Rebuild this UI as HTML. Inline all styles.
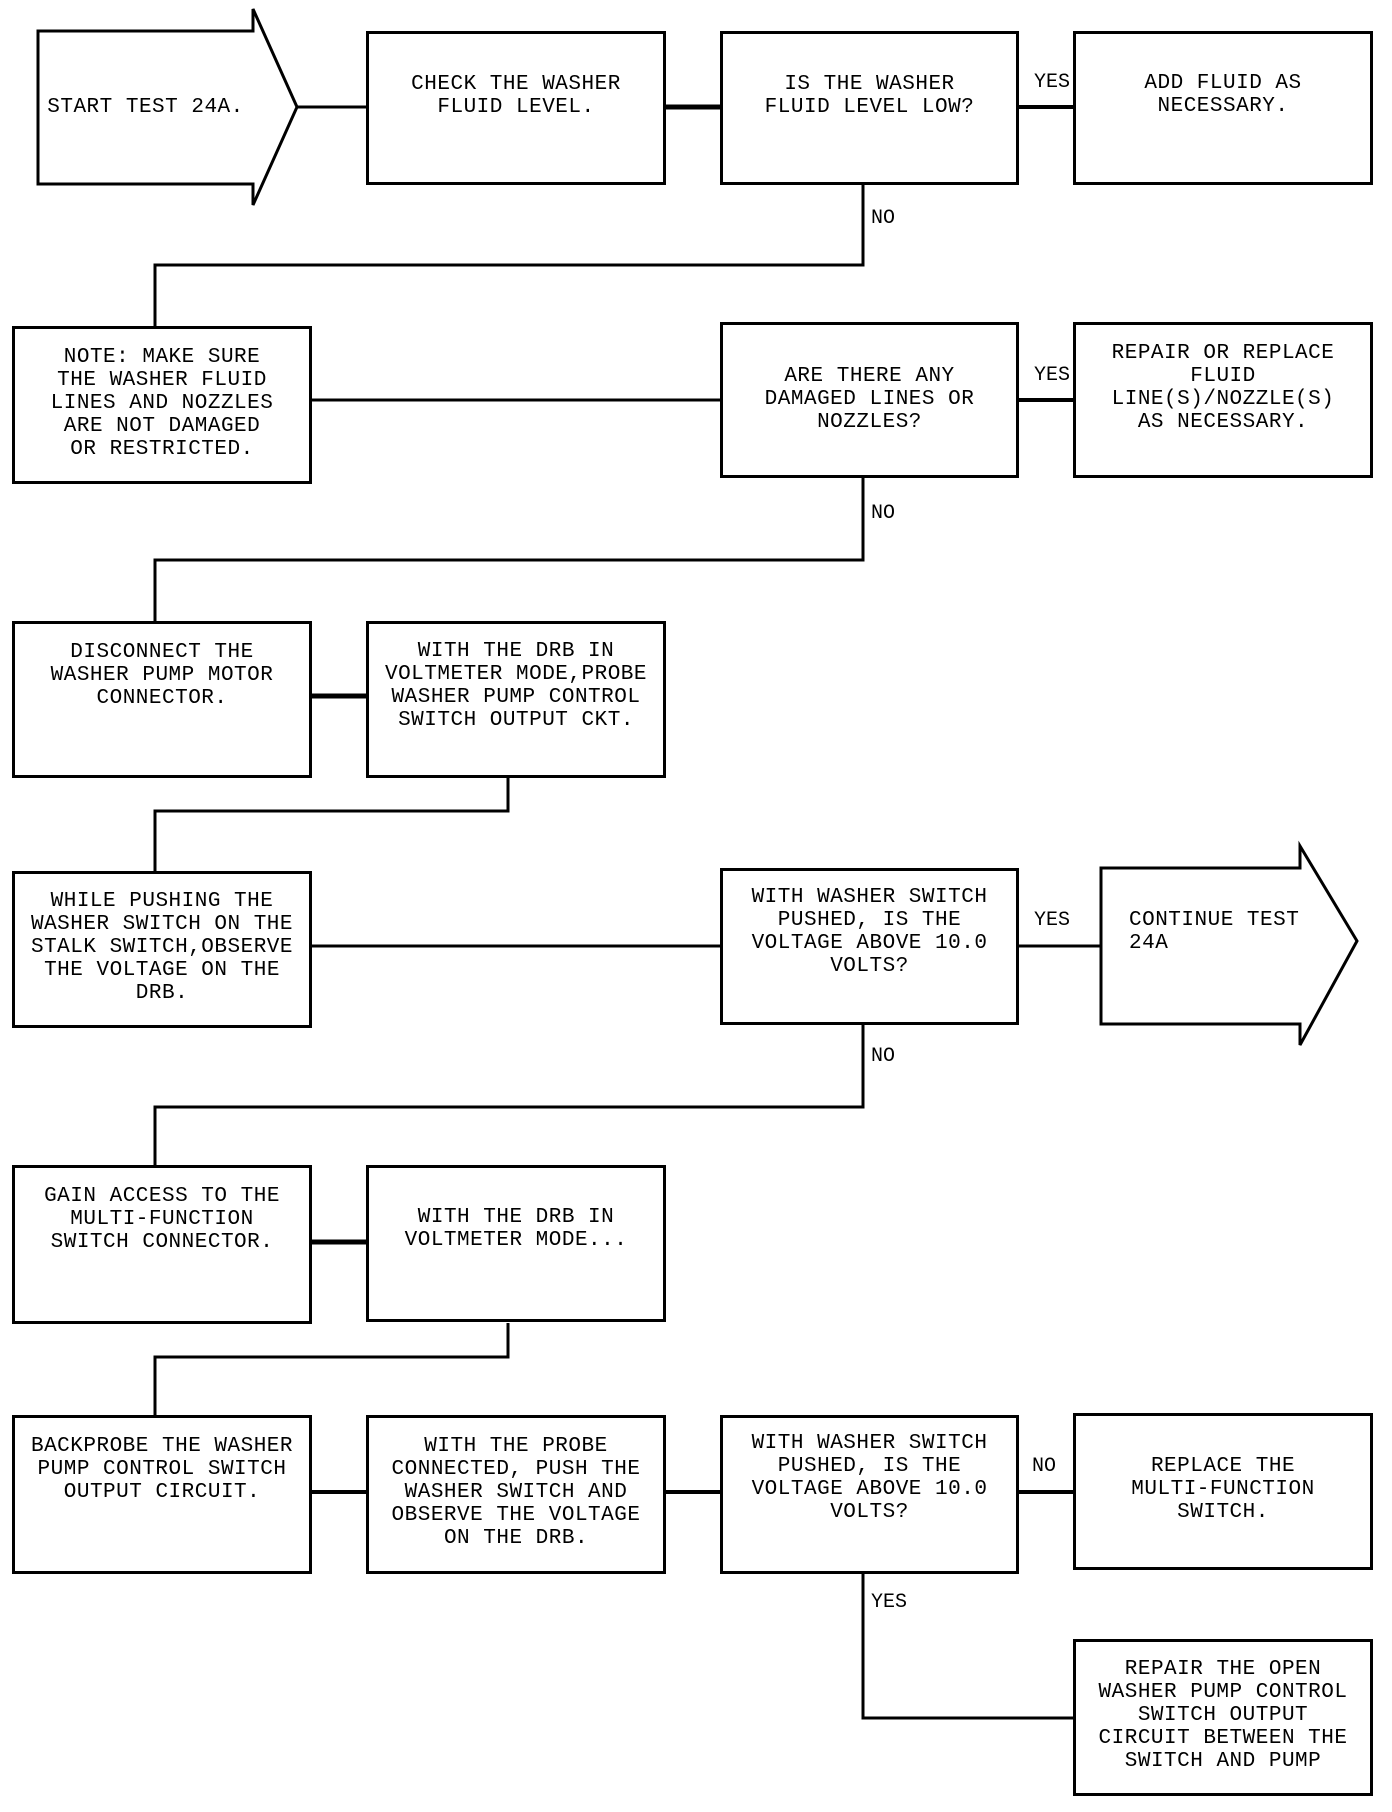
<!DOCTYPE html>
<html><head><meta charset="utf-8"><style>
body{margin:0;background:#fff;}
#c{position:relative;width:1392px;height:1812px;overflow:hidden;background:#fff;}
.b{position:absolute;border:3px solid #000;box-sizing:border-box;background:#fff;}
.t{position:absolute;font-family:"Liberation Mono",monospace;font-size:21px;line-height:23px;text-align:center;color:#000;white-space:nowrap;letter-spacing:0.5px;}
.l{position:absolute;font-family:"Liberation Mono",monospace;font-size:20px;color:#000;}
</style></head><body><div id="c">
<svg width="1392" height="1812" style="position:absolute;left:0;top:0">
<g fill="none" stroke="#000" stroke-width="3">
<polygon points="38,31 253,31 253,9 297,107 253,205 253,184 38,184" fill="#fff"/>
<polygon points="1101,868 1300,868 1300,846 1357,941 1300,1045 1300,1024 1101,1024" fill="#fff"/>
<line x1="297" y1="107" x2="366" y2="107"/>
<line x1="665" y1="107" x2="720" y2="107" stroke-width="5"/>
<line x1="1018" y1="107" x2="1073" y2="107" stroke-width="4"/>
<polyline points="863,184 863,265 155,265 155,326"/>
<line x1="311" y1="400" x2="720" y2="400"/>
<line x1="1018" y1="400" x2="1073" y2="400" stroke-width="4"/>
<polyline points="863,477 863,560 155,560 155,621"/>
<line x1="311" y1="696" x2="366" y2="696" stroke-width="5"/>
<polyline points="508,777 508,811 155,811 155,871"/>
<line x1="311" y1="946" x2="720" y2="946"/>
<line x1="1018" y1="946" x2="1101" y2="946"/>
<polyline points="863,1024 863,1107 155,1107 155,1165"/>
<line x1="311" y1="1242" x2="366" y2="1242" stroke-width="5"/>
<polyline points="508,1323 508,1357 155,1357 155,1415"/>
<line x1="311" y1="1492" x2="366" y2="1492" stroke-width="4"/>
<line x1="665" y1="1492" x2="720" y2="1492" stroke-width="4"/>
<line x1="1018" y1="1492" x2="1073" y2="1492" stroke-width="4"/>
<polyline points="863,1573 863,1718 1073,1718"/>
</g>
</svg>
<div class="b" style="left:366px;top:31px;width:300px;height:154px"></div>
<div class="b" style="left:720px;top:31px;width:299px;height:154px"></div>
<div class="b" style="left:1073px;top:31px;width:300px;height:154px"></div>
<div class="b" style="left:12px;top:326px;width:300px;height:158px"></div>
<div class="b" style="left:720px;top:322px;width:299px;height:156px"></div>
<div class="b" style="left:1073px;top:322px;width:300px;height:156px"></div>
<div class="b" style="left:12px;top:621px;width:300px;height:157px"></div>
<div class="b" style="left:366px;top:621px;width:300px;height:157px"></div>
<div class="b" style="left:12px;top:871px;width:300px;height:157px"></div>
<div class="b" style="left:720px;top:868px;width:299px;height:157px"></div>
<div class="b" style="left:12px;top:1165px;width:300px;height:159px"></div>
<div class="b" style="left:366px;top:1165px;width:300px;height:157px"></div>
<div class="b" style="left:12px;top:1415px;width:300px;height:159px"></div>
<div class="b" style="left:366px;top:1415px;width:300px;height:159px"></div>
<div class="b" style="left:720px;top:1415px;width:299px;height:159px"></div>
<div class="b" style="left:1073px;top:1413px;width:300px;height:157px"></div>
<div class="b" style="left:1073px;top:1639px;width:300px;height:157px"></div>

<div class="t" style="left:38px;width:215px;top:96px">START TEST 24A.</div>
<div class="t" style="left:366px;width:300px;top:73px">CHECK THE WASHER<br>FLUID LEVEL.</div>
<div class="t" style="left:720px;width:299px;top:73px">IS THE WASHER<br>FLUID LEVEL LOW?</div>
<div class="t" style="left:1073px;width:300px;top:72px">ADD FLUID AS<br>NECESSARY.</div>
<div class="t" style="left:12px;width:300px;top:346px">NOTE: MAKE SURE<br>THE WASHER FLUID<br>LINES AND NOZZLES<br>ARE NOT DAMAGED<br>OR RESTRICTED.</div>
<div class="t" style="left:720px;width:299px;top:365px">ARE THERE ANY<br>DAMAGED LINES OR<br>NOZZLES?</div>
<div class="t" style="left:1073px;width:300px;top:342px">REPAIR OR REPLACE<br>FLUID<br>LINE(S)/NOZZLE(S)<br>AS NECESSARY.</div>
<div class="t" style="left:12px;width:300px;top:641px">DISCONNECT THE<br>WASHER PUMP MOTOR<br>CONNECTOR.</div>
<div class="t" style="left:366px;width:300px;top:640px">WITH THE DRB IN<br>VOLTMETER MODE,PROBE<br>WASHER PUMP CONTROL<br>SWITCH OUTPUT CKT.</div>
<div class="t" style="left:12px;width:300px;top:890px">WHILE PUSHING THE<br>WASHER SWITCH ON THE<br>STALK SWITCH,OBSERVE<br>THE VOLTAGE ON THE<br>DRB.</div>
<div class="t" style="left:720px;width:299px;top:886px">WITH WASHER SWITCH<br>PUSHED, IS THE<br>VOLTAGE ABOVE 10.0<br>VOLTS?</div>
<div class="t" style="left:1129px;top:909px;text-align:left">CONTINUE TEST<br>24A</div>
<div class="t" style="left:12px;width:300px;top:1185px">GAIN ACCESS TO THE<br>MULTI-FUNCTION<br>SWITCH CONNECTOR.</div>
<div class="t" style="left:366px;width:300px;top:1206px">WITH THE DRB IN<br>VOLTMETER MODE...</div>
<div class="t" style="left:12px;width:300px;top:1435px">BACKPROBE THE WASHER<br>PUMP CONTROL SWITCH<br>OUTPUT CIRCUIT.</div>
<div class="t" style="left:366px;width:300px;top:1435px">WITH THE PROBE<br>CONNECTED, PUSH THE<br>WASHER SWITCH AND<br>OBSERVE THE VOLTAGE<br>ON THE DRB.</div>
<div class="t" style="left:720px;width:299px;top:1432px">WITH WASHER SWITCH<br>PUSHED, IS THE<br>VOLTAGE ABOVE 10.0<br>VOLTS?</div>
<div class="t" style="left:1073px;width:300px;top:1455px">REPLACE THE<br>MULTI-FUNCTION<br>SWITCH.</div>
<div class="t" style="left:1073px;width:300px;top:1658px">REPAIR THE OPEN<br>WASHER PUMP CONTROL<br>SWITCH OUTPUT<br>CIRCUIT BETWEEN THE<br>SWITCH AND PUMP</div>

<div class="l" style="left:1034px;top:71px">YES</div>
<div class="l" style="left:871px;top:207px">NO</div>
<div class="l" style="left:1034px;top:364px">YES</div>
<div class="l" style="left:871px;top:502px">NO</div>
<div class="l" style="left:1034px;top:909px">YES</div>
<div class="l" style="left:871px;top:1045px">NO</div>
<div class="l" style="left:1032px;top:1455px">NO</div>
<div class="l" style="left:871px;top:1591px">YES</div>
</div></body></html>
